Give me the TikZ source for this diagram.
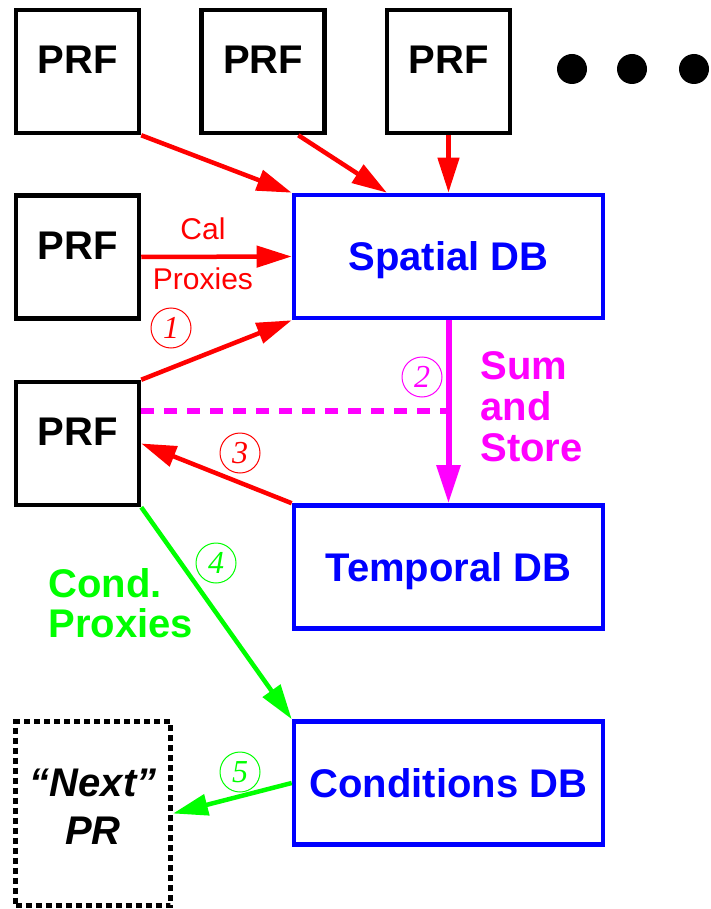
\documentclass[tikz,border=0pt]{standalone}
\usepackage{fontspec}
\setmainfont{Liberation Sans}
\newfontfamily\numfont{Liberation Serif}
\usetikzlibrary{arrows.meta}
\definecolor{summag}{RGB}{255,0,255}

\begin{document}
\begin{tikzpicture}[x=0.5pt, y=-0.5pt,
  prfbox/.style={draw, line width=2.25pt, minimum width=61.5pt, minimum height=61.5pt,
    inner sep=0pt, font=\bfseries\fontsize{20}{24}\selectfont, text height=14pt, text depth=12pt},
  dbbox/.style={draw=blue, text=blue, line width=2.3pt, minimum width=154.5pt, minimum height=61.5pt,
    inner sep=0pt, font=\bfseries\fontsize{20}{24}\selectfont, text height=14.3pt, text depth=0pt},
  numlabel/.style={circle, draw, line width=0.5pt, minimum size=20pt, inner sep=0pt,
    font=\numfont\itshape\fontsize{16}{18}\selectfont},
  flow/.style={line width=2.25pt, -{Triangle[length=17.5pt, width=10.5pt]}}]
  \useasboundingbox (0,0) rectangle (711,909);

  \node[prfbox] (prfA) at (77.5,71.5) {PRF};
  \node[prfbox] (prfB) at (263,71.5) {PRF};
  \node[prfbox] (prfC) at (448.5,71.5) {PRF};
  \foreach \x [count=\i] in {572,632,694}
    \node[circle, fill, minimum size=15pt, inner sep=0pt] (dot\i) at (\x,69) {};
  \node[prfbox] (prfCal) at (77.5,257) {PRF};
  \node[prfbox] (prfLow) at (77.5,443.5) {PRF};

  \node[dbbox] (spatial) at (448.5,256.5) {Spatial DB};
  \node[dbbox] (temporal) at (448.5,567) {Temporal DB};
  \node[dbbox] (conditions) at (448.5,783) {Conditions DB};
  \node[draw, line width=2.5pt, dash pattern=on 3pt off 2pt, minimum width=77.5pt, minimum height=92pt,
    inner sep=0pt, align=center, font=\bfseries\itshape\fontsize{20}{24}\selectfont, text depth=6.5pt]
    (nextpr) at (93,813.5) {“Next”\\PR};

  \draw[red, flow] (prfA.south east) -- (spatial.north west);
  \draw[red, flow] (prfB.-61) -- (spatial.134);
  \draw[red, flow] (prfC.south) -- (spatial.north);
  \draw[red, flow] (prfCal.east) --
    node[pos=0.41, above=7.5pt, inner sep=0pt, font=\fontsize{15}{18}\selectfont] (callbl) {Cal}
    node[pos=0.41, below=4.5pt, inner sep=0pt, font=\fontsize{15}{18}\selectfont] (proxlbl) {Proxies}
    (spatial.west);

  \draw[red, flow] (prfLow.north east) -- (spatial.south west);
  \draw[summag, line width=3pt, -{Triangle[length=19pt, width=11.5pt]}] (spatial.south) -- (temporal.north);
  \draw[summag, line width=2.8pt, dash pattern=on 6.5pt off 5pt] (prfLow.27) -- (prfLow.27 -| spatial.south);
  \draw[red, flow] (temporal.north west) -- (prfLow.east);
  \draw[green, flow] (prfLow.south east) -- (conditions.north west);
  \draw[green, flow] (conditions.west) -- (nextpr.east);

  \node[numlabel, red] (one) at (171,328) {1};
  \node[numlabel, summag] (two) at (422,377) {2};
  \node[numlabel, red] (three) at (240,453) {3};
  \node[numlabel, green] (four) at (216,563) {4};
  \node[numlabel, green] (five) at (240,772) {5};

  \node[anchor=north west, inner sep=0pt, align=left, text=summag,
    font=\bfseries\fontsize{20}{20.5}\selectfont] (sumstore) at (480,351) {Sum\\and\\Store};
  \node[anchor=north west, inner sep=0pt, align=left, text=green,
    font=\bfseries\fontsize{20}{20}\selectfont] (condprox) at (48,568) {Cond.\\Proxies};
\end{tikzpicture}
\end{document}
